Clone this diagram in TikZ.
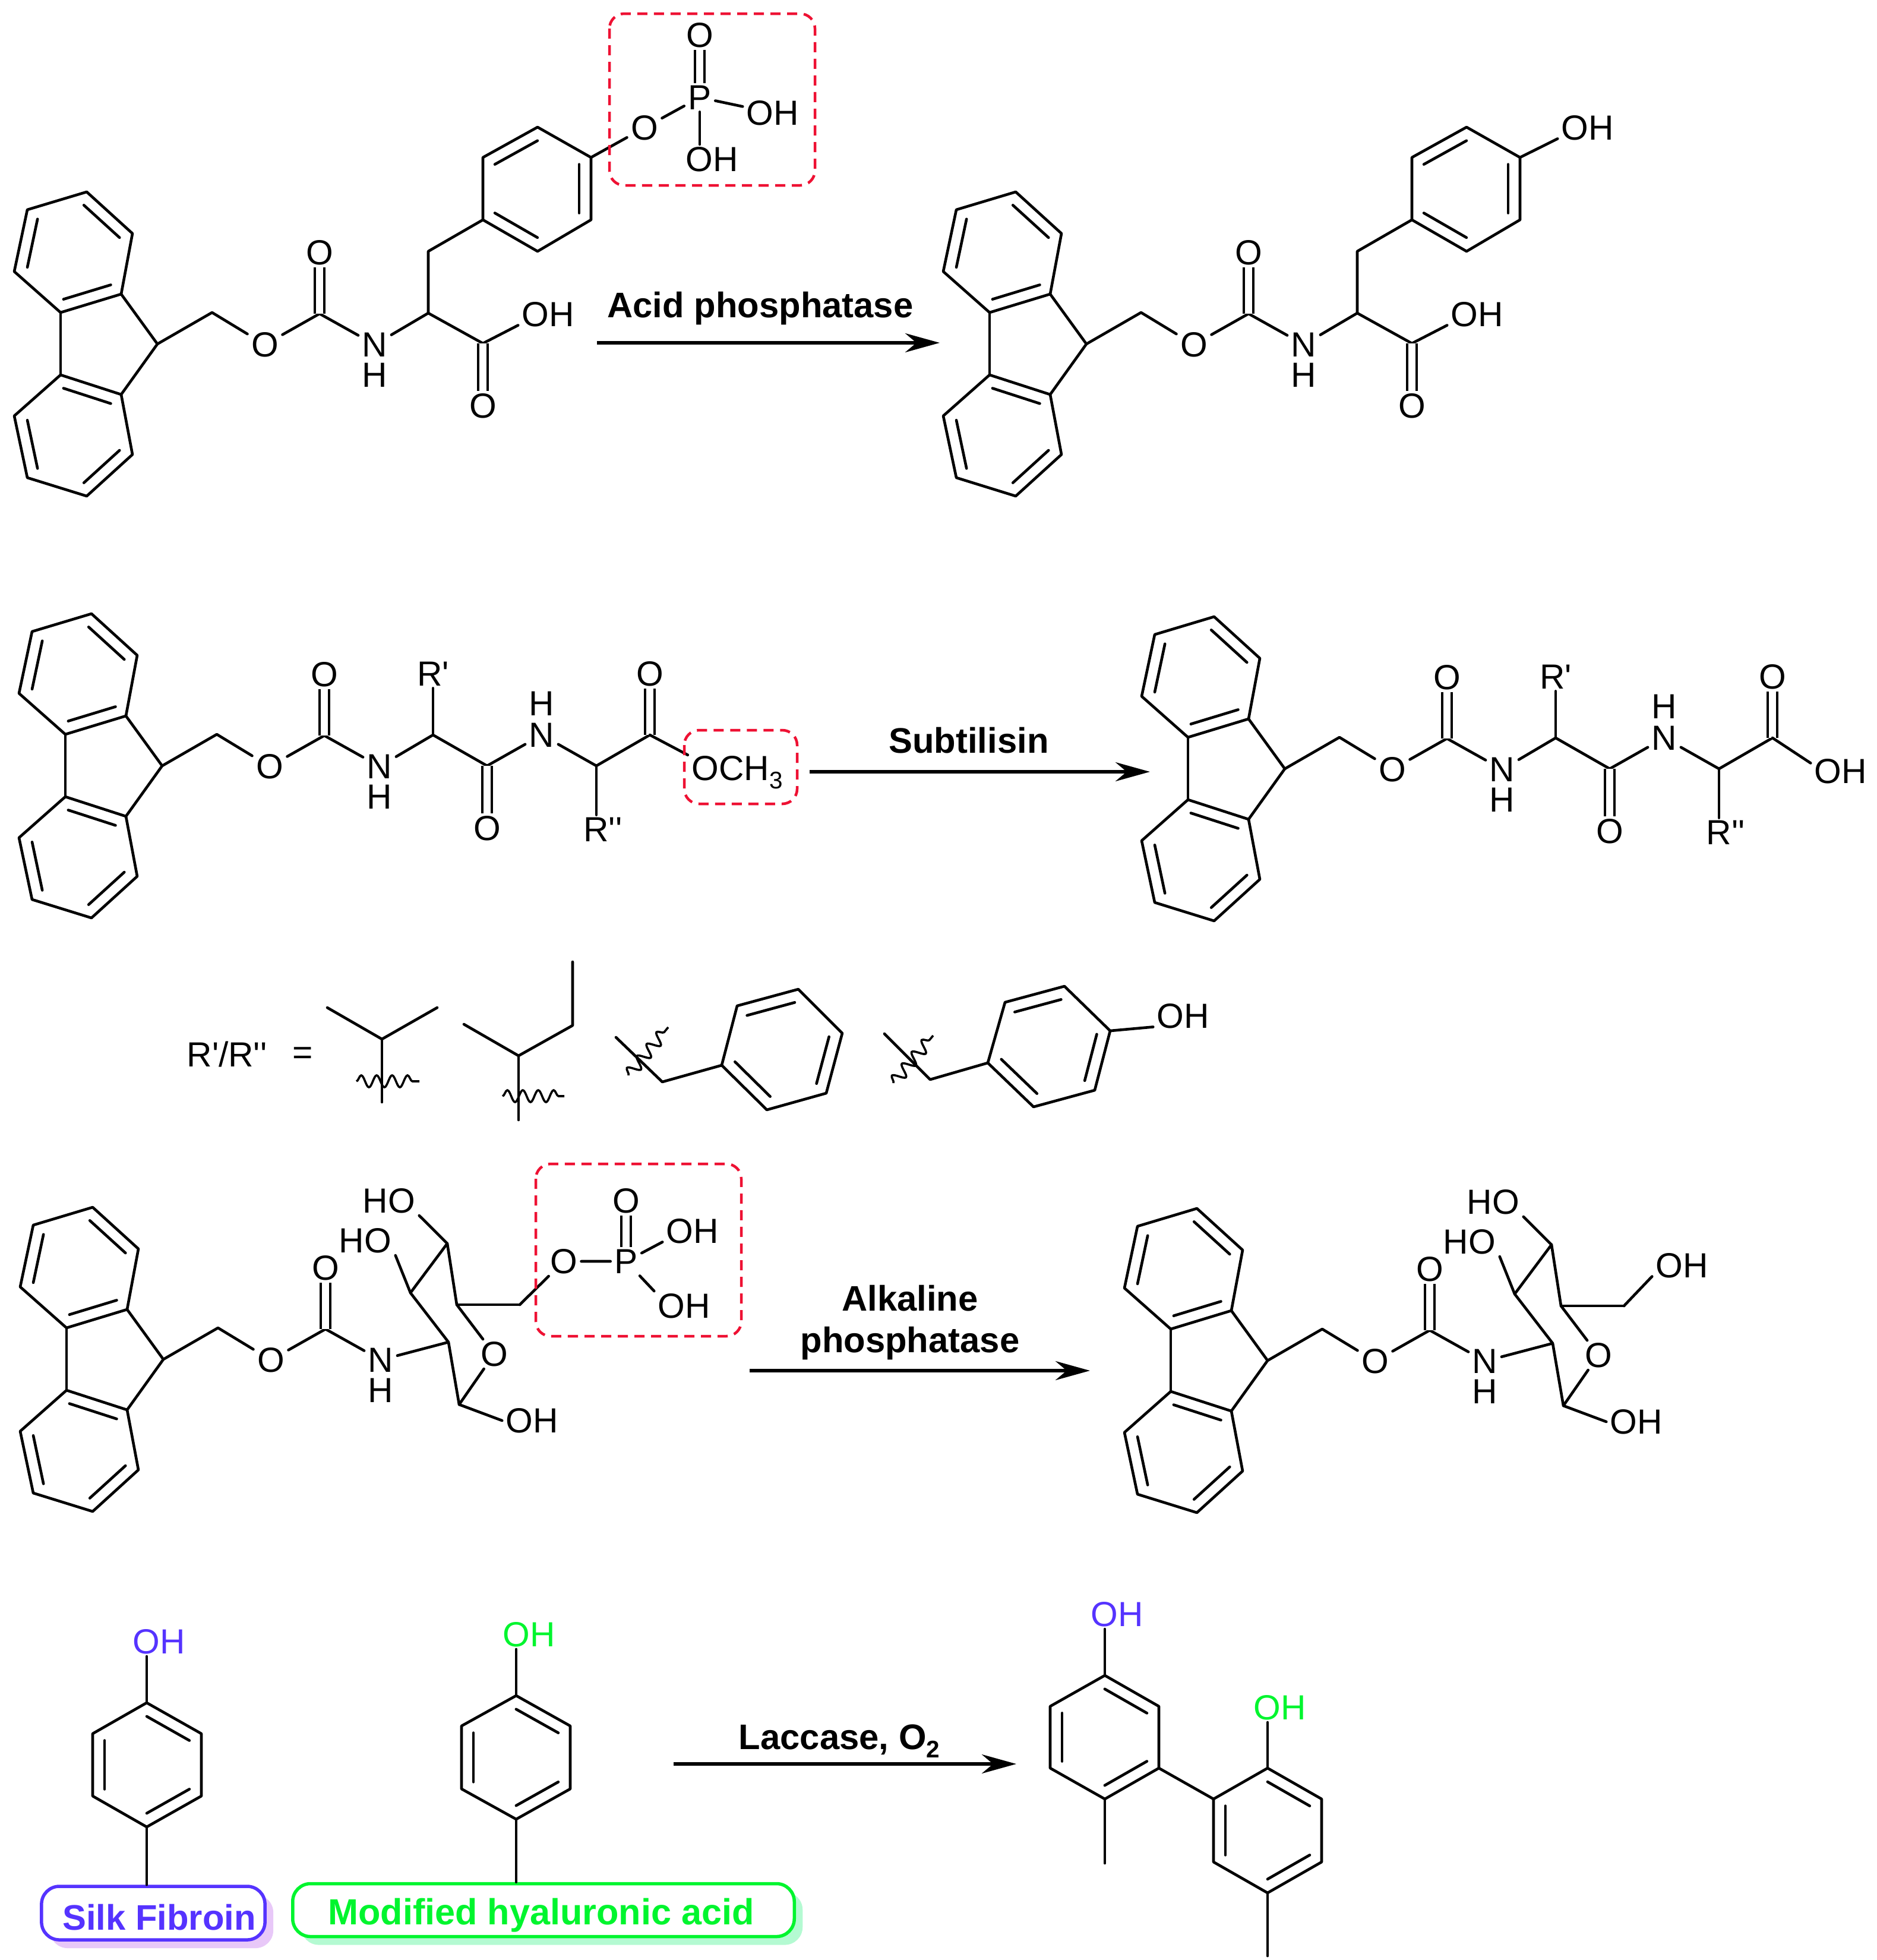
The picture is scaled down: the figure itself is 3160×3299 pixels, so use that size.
\documentclass[tikz,border=0pt]{standalone}
\usepackage{fontspec}
\setmainfont{Liberation Sans}
\usetikzlibrary{arrows.meta,calc,shadows,decorations.pathmorphing}

\definecolor{silkblue}{HTML}{5533FF}
\definecolor{hagreen}{HTML}{00F52E}
\definecolor{silkshade}{HTML}{E8C8F8}
\definecolor{hashade}{HTML}{B4FAD2}
\definecolor{boxred}{HTML}{EE1133}

\tikzset{
	bond/.style={line width=.046cm, line join=round, line cap=round, black},
	dbond/.style={line width=.042cm, double, double distance=.115cm, black},
	wavebond/.style={line width=.036cm, black, decorate, decoration={snake, segment length=.26cm, amplitude=.1cm}},
	rxn/.style={line width=.055cm, black, -{Stealth[length=.58cm, width=.32cm]}},
	atom/.style={inner xsep=.06cm, inner ysep=.035cm, font=\fontsize{16.7}{20}\selectfont},
	rxnlabel/.style={inner sep=0pt, anchor=base, font=\fontsize{17}{19.9}\selectfont\bfseries},
	redbox/.style={line width=.045cm, boxred, rounded corners=.25cm, dash pattern=on .17cm off .11cm},
	silkbox/.style={draw=silkblue, line width=.055cm, fill=white, rounded corners=.3cm, minimum width=3.76cm, minimum height=.9cm, inner sep=0pt, drop shadow={shadow xshift=.14cm, shadow yshift=-.14cm, fill=silkshade, opacity=1}},
	habox/.style={draw=hagreen, line width=.055cm, fill=white, rounded corners=.3cm, minimum width=8.44cm, minimum height=.89cm, inner sep=0pt, drop shadow={shadow xshift=.14cm, shadow yshift=-.14cm, fill=hashade, opacity=1}}
}

\newcommand{\subnum}[1]{\smash{\raisebox{-.24em}{\fontsize{11.5}{12}\selectfont #1}}}

\newcommand{\ringsix}[6]{
	\coordinate (r1) at #1;
	\coordinate (r2) at #2;
	\coordinate (r3) at #3;
	\coordinate (r4) at #4;
	\coordinate (r5) at #5;
	\coordinate (r6) at #6;
	\coordinate (rc) at (barycentric cs:r1=1,r2=1,r3=1,r4=1,r5=1,r6=1);
	\draw[bond] (r1) -- (r2) -- (r3) -- (r4) -- (r5) -- (r6) -- cycle;
	\foreach \a/\b in {r1/r2, r3/r4, r5/r6}
		\draw[bond] ($(rc)!.78!(\a)$) -- ($(rc)!.78!(\b)$);
}

\newcommand{\fmocpart}[3]{
	\begin{scope}[shift={(#2,#3)}]
		\ringsix{(146,323)}{(223,393)}{(204,495)}{(102,526)}{(24,457)}{(46,353)}
		\coordinate (#1fa) at (r3);
		\coordinate (#1fb) at (r4);
		\ringsix{(102,631)}{(204,664)}{(223,765)}{(146,835)}{(46,804)}{(24,700)}
		\coordinate (#1nine) at (265,579);
		\coordinate (#1ch) at (357,526);
		\coordinate (#1co) at (538,528);
		\node[atom] (#1oe) at (446,580) {O};
		\node[atom] (#1ok) at (538,425) {O};
		\node[atom] (#1n) at (631,580) {N};
		\node[atom] (#1h) at (631,631) {H};
		\draw[bond] (#1fb) -- (r1);
		\draw[bond] (#1fa) -- (#1nine) -- (r2);
		\draw[bond] (#1nine) -- (#1ch) -- (#1oe) -- (#1co) -- (#1n);
		\draw[dbond] (#1co) -- (#1ok);
	\end{scope}
}

\newcommand{\tyrpart}[3]{
	\begin{scope}[shift={(#2,#3)}]
		\fmocpart{#1}{0}{0}
		\ringsix{(813,370)}{(905,423)}{(995,370)}{(995,265)}{(905,214)}{(813,265)}
		\coordinate (#1ca) at (721,527);
		\coordinate (#1cb) at (721,423);
		\coordinate (#1cc) at (813,578);
		\node[atom] (#1ac) at (923,529) {OH};
		\node[atom] (#1ak) at (813,683) {O};
		\draw[bond] (#1n) -- (#1ca) -- (#1cb) -- (r1);
		\draw[bond] (#1ca) -- (#1cc) -- (#1ac.200);
		\draw[dbond] (#1cc) -- (#1ak);
	\end{scope}
}

\newcommand{\dipart}[3]{
	\begin{scope}[shift={(#2,#3)}]
		\fmocpart{#1}{8}{710}
		\coordinate (#1ca) at (729,1237);
		\coordinate (#1cb) at (820,1289);
		\coordinate (#1cc) at (1004,1289);
		\coordinate (#1cd) at (1094,1237);
		\node[atom] (#1ra) at (729,1134) {R\textquotesingle};
		\node[atom] (#1ob) at (820,1394) {O};
		\node[atom] (#1nb) at (912,1237) {N};
		\node[atom] (#1hb) at (912,1184) {H};
		\node[atom] (#1rb) at (1015,1396) {R\textquotesingle\textquotesingle};
		\node[atom] (#1od) at (1094,1134) {O};
		\draw[bond] (#1n) -- (#1ca) -- (#1cb) -- (#1nb) -- (#1cc) -- (#1cd);
		\draw[bond] (#1ca) -- (#1ca |- #1ra.south);
		\draw[bond] (#1cc) -- (#1cc |- #1rb.north);
		\draw[dbond] (#1cb) -- (#1ob);
		\draw[dbond] (#1cd) -- (#1od);
	\end{scope}
}

\newcommand{\sugarpart}[3]{
	\begin{scope}[shift={(#2,#3)}]
		\fmocpart{#1}{10}{1709}
		\coordinate (#1sa) at (755,2259);
		\coordinate (#1sb) at (691,2176);
		\coordinate (#1sc) at (753,2093);
		\coordinate (#1sd) at (769,2196);
		\coordinate (#1se) at (773,2364);
		\coordinate (#1sf) at (875,2196);
		\node[atom] (#1so) at (832,2279) {O};
		\node[atom] (#1hoa) at (655,2021) {HO};
		\node[atom] (#1hob) at (615,2088) {HO};
		\node[atom] (#1ohc) at (896,2391) {OH};
		\draw[bond] (#1n) -- (#1sa) -- (#1sb) -- (#1sc) -- (#1sd) -- (#1so) -- (#1se) -- (#1sa);
		\draw[bond] (#1sb) -- (#1hob.south east);
		\draw[bond] (#1sc) -- (#1hoa.south east);
		\draw[bond] (#1se) -- (#1ohc.west);
		\draw[bond] (#1sd) -- (#1sf);
	\end{scope}
}

\begin{document}
\begin{tikzpicture}[x=.01cm, y=-.01cm]
	\useasboundingbox (0,0) rectangle (3160,3299);

	% first row
	\tyrpart{a}{0}{0}
	\node[atom] (aop) at (1085,215) {O};
	\node[atom] (aphos) at (1178,164) {P};
	\node[atom] (aoq) at (1178,59) {O};
	\node[atom] (aor) at (1301,190) {OH};
	\node[atom] (aos) at (1199,268) {OH};
	\draw[bond] (r4) -- (aop) -- (aphos) -- (aor);
	\draw[bond] (aphos) -- (aphos |- aos.north);
	\draw[dbond] (aphos) -- (aoq);
	\draw[redbox] (1026,23) rectangle (1372,312);

	\coordinate (acidfrom) at (1005,577);
	\coordinate (acidto) at (1582,577);
	\draw[rxn] (acidfrom) -- (acidto);
	\node[rxnlabel] (acidlabel) at (1280,534) {Acid phosphatase};

	\tyrpart{b}{1564}{0}
	\node[atom] (bot) at (2673,215) {OH};
	\draw[bond] (r4) -- (bot.200);

	% second row
	\dipart{c}{0}{0}
	\node[atom] (cme) at (1241,1293) {OCH\subnum{3}};
	\draw[bond] (ccd) -- (cme.165);
	\draw[redbox] (1152,1229) rectangle (1342,1353);

	\coordinate (subfrom) at (1363,1299);
	\coordinate (subto) at (1936,1299);
	\draw[rxn] (subfrom) -- (subto);
	\node[rxnlabel] (sublabel) at (1631,1267) {Subtilisin};

	\dipart{d}{1890}{5}
	\node[atom] (dot) at (3099,1298) {OH};
	\draw[bond] (dcd) -- (dot.165);

	% side chains
	\node[atom] (rlist) at (382,1774) {R\textquotesingle/R\textquotesingle\textquotesingle};
	\node[atom] (rsign) at (510,1777) {=};

	\coordinate (vala) at (551,1696);
	\coordinate (valb) at (643,1749);
	\coordinate (valc) at (736,1696);
	\coordinate (vald) at (643,1855);
	\coordinate (vale) at (600,1820);
	\coordinate (valf) at (706,1820);
	\draw[bond] (vala) -- (valb) -- (valc);
	\draw[bond] (valb) -- (vald);
	\draw[wavebond] (vale) -- (valf);

	\coordinate (ilea) at (781,1724);
	\coordinate (ileb) at (873,1777);
	\coordinate (ilec) at (964,1726);
	\coordinate (iled) at (964,1619);
	\coordinate (ilee) at (873,1885);
	\coordinate (ilef) at (846,1845);
	\coordinate (ileg) at (950,1845);
	\draw[bond] (ilea) -- (ileb) -- (ilec) -- (iled);
	\draw[bond] (ileb) -- (ilee);
	\draw[wavebond] (ilef) -- (ileg);

	\ringsix{(1215,1793)}{(1291,1868)}{(1391,1840)}{(1418,1739)}{(1344,1665)}{(1241,1693)}
	\coordinate (phea) at (1037,1746);
	\coordinate (pheb) at (1115,1821);
	\coordinate (phec) at (1058,1810);
	\coordinate (phed) at (1125,1729);
	\draw[bond] (phea) -- (pheb) -- (r1);
	\draw[wavebond] (phec) -- (phed);

	\ringsix{(1663,1789)}{(1740,1863)}{(1843,1835)}{(1869,1735)}{(1792,1660)}{(1692,1687)}
	\coordinate (tyra) at (1489,1740);
	\coordinate (tyrb) at (1566,1817);
	\coordinate (tyrc) at (1504,1823);
	\coordinate (tyrd) at (1571,1743);
	\node[atom] (tyrot) at (1992,1710) {OH};
	\draw[bond] (tyra) -- (tyrb) -- (r1);
	\draw[bond] (r4) -- (tyrot.200);
	\draw[wavebond] (tyrc) -- (tyrd);

	% third row
	\sugarpart{e}{0}{0}
	\node[atom] (eop) at (949,2123) {O};
	\node[atom] (ephos) at (1054,2123) {P};
	\node[atom] (eoq) at (1054,2021) {O};
	\node[atom] (eor) at (1166,2072) {OH};
	\node[atom] (eos) at (1152,2198) {OH};
	\draw[bond] (esf) -- (eop) -- (ephos) -- (eor.200);
	\draw[bond] (ephos) -- (eos.north west);
	\draw[dbond] (ephos) -- (eoq);
	\draw[redbox] (902,1959) rectangle (1248,2249);

	\coordinate (alkfrom) at (1262,2307);
	\coordinate (alkto) at (1835,2307);
	\draw[rxn] (alkfrom) -- (alkto);
	\node[rxnlabel, anchor=center, align=center] (alklabel) at (1532,2226) {Alkaline\\phosphatase};

	\sugarpart{f}{1859}{2}
	\node[atom] (fot) at (2832,2130) {OH};
	\draw[bond] (fsf) -- (fot.200);

	% last row
	\node[silkbox] (silkframe) at (258,3220) {};
	\node[rxnlabel, silkblue] (silklabel) at (268,3248) {Silk Fibroin};
	\node[habox] (haframe) at (915,3215) {};
	\node[rxnlabel, hagreen, font=\fontsize{17.4}{20}\selectfont\bfseries] (halabel) at (911,3239) {Modified hyaluronic acid};

	\ringsix{(247,2866)}{(339,2918)}{(339,3023)}{(247,3075)}{(156,3023)}{(156,2918)}
	\node[atom, silkblue] (silkot) at (268,2763) {OH};
	\draw[bond] (r1) -- (r1 |- silkot.south);
	\draw[bond] (r4) -- (r4 |- silkframe.north);

	\ringsix{(869,2854)}{(960,2905)}{(960,3011)}{(869,3062)}{(777,3011)}{(777,2905)}
	\node[atom, hagreen] (haot) at (891,2751) {OH};
	\draw[bond] (r1) -- (r1 |- haot.south);
	\draw[bond] (r4) -- (r4 |- haframe.north);

	\coordinate (lacfrom) at (1134,2969);
	\coordinate (lacto) at (1711,2969);
	\draw[rxn] (lacfrom) -- (lacto);
	\node[rxnlabel] (laclabel) at (1413,2944) {Laccase, O\subnum{2}};

	\ringsix{(1860,2820)}{(1951,2872)}{(1951,2976)}{(1860,3028)}{(1768,2976)}{(1768,2872)}
	\coordinate (biara) at (r3);
	\coordinate (mea) at (1860,3136);
	\node[atom, silkblue] (prodot) at (1881,2717) {OH};
	\draw[bond] (r1) -- (r1 |- prodot.south);
	\draw[bond] (r4) -- (mea);

	\ringsix{(2134,2976)}{(2225,3028)}{(2225,3134)}{(2134,3186)}{(2043,3134)}{(2043,3028)}
	\coordinate (meb) at (2134,3292);
	\node[atom, hagreen] (prodoh) at (2155,2874) {OH};
	\draw[bond] (r1) -- (r1 |- prodoh.south);
	\draw[bond] (r4) -- (meb);
	\draw[bond] (biara) -- (r6);
\end{tikzpicture}
\end{document}
